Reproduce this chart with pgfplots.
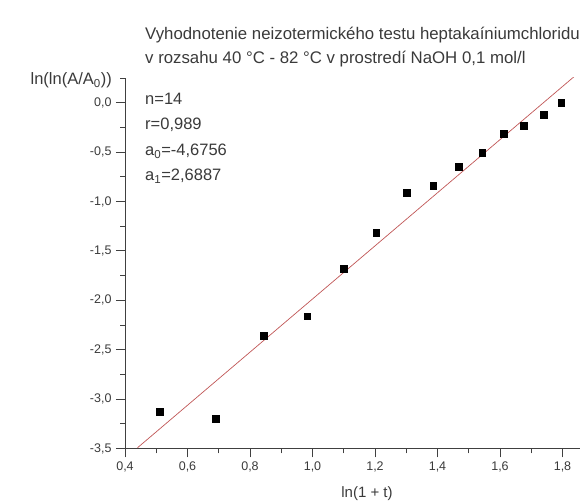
\documentclass[border=0pt]{standalone}
\usepackage{pgfplots}
\pgfplotsset{compat=1.18}
\usepackage{fontspec}
\setmainfont{Liberation Sans}
\definecolor{txt}{HTML}{3A3A3A}
\definecolor{axc}{HTML}{404040}
\definecolor{fitc}{RGB}{192,86,86}
\begin{document}
\begin{tikzpicture}
\begin{axis}[
  at={(125bp,53.5bp)}, anchor=south west,
  width=455bp, height=370.5bp, scale only axis,
  xmin=0.4, xmax=1.856, ymin=-3.5, ymax=0.25,
  axis x line=bottom, axis y line=left,
  axis line style={-, draw=axc, line width=0.9pt},
  xtick={0.4,0.6,...,1.8}, ytick={-3.5,-3,...,0},
  minor xtick={0.5,0.7,0.9,1.1,1.3,1.5,1.7},
  minor ytick={-3.25,-2.75,-2.25,-1.75,-1.25,-0.75,-0.25,0.25},
  tick align=outside,
  major tick length=9bp, minor tick length=5bp,
  tick style={draw=axc, line width=0.8pt},
  every tick label/.append style={font=\fontsize{12.5bp}{14bp}\selectfont, text=txt},
  xticklabel style={yshift=-1bp},
  yticklabel style={xshift=-1bp},
  /pgf/number format/.cd, use comma, fixed, fixed zerofill, precision=1, assume math mode=true,
  /pgfplots/.cd,
  clip=true,
]
\addplot[fitc, line width=0.7pt] coordinates {(0.44,-3.4926) (1.9,0.4329)};
\addplot[only marks, mark=square*, mark size=3.4bp, black] coordinates {
(0.512,-3.125) (0.690,-3.200) (0.845,-2.355) (0.983,-2.160) (1.099,-1.677)
(1.204,-1.316) (1.301,-0.908) (1.386,-0.840) (1.468,-0.645) (1.543,-0.506)
(1.613,-0.314) (1.677,-0.236) (1.739,-0.118) (1.796,-0.003)};
\end{axis}
\begin{scope}[every node/.style={text=txt, inner sep=0pt}]
\node[anchor=base west, font=\fontsize{16.8bp}{19bp}\selectfont] at (145bp,462.7bp) {Vyhodnotenie neizotermického testu heptakaíniumchloridu};
\node[anchor=base west, font=\fontsize{16.8bp}{19bp}\selectfont] at (145bp,438.7bp) {v rozsahu 40 °C - 82 °C v prostredí NaOH 0,1 mol/l};
\node[anchor=base east, font=\fontsize{16.5bp}{18bp}\selectfont] at (112bp,417bp) {ln(ln(A/A\textsubscript{0}))};
\node[anchor=base west, font=\fontsize{16.5bp}{18bp}\selectfont] at (145bp,397bp) {n=14};
\node[anchor=base west, font=\fontsize{16.5bp}{18bp}\selectfont] at (145bp,372bp) {r=0,989};
\node[anchor=base west, font=\fontsize{16.5bp}{18bp}\selectfont] at (145bp,346bp) {a\textsubscript{0}=-4,6756};
\node[anchor=base west, font=\fontsize{16.5bp}{18bp}\selectfont] at (145bp,321bp) {a\textsubscript{1}=2,6887};
\node[anchor=base, font=\fontsize{15bp}{17bp}\selectfont] at (367bp,5bp) {ln(1 + t)};
\end{scope}
\pgfresetboundingbox
\path[use as bounding box] (0,0) rectangle (580bp,502bp);
\end{tikzpicture}
\end{document}
